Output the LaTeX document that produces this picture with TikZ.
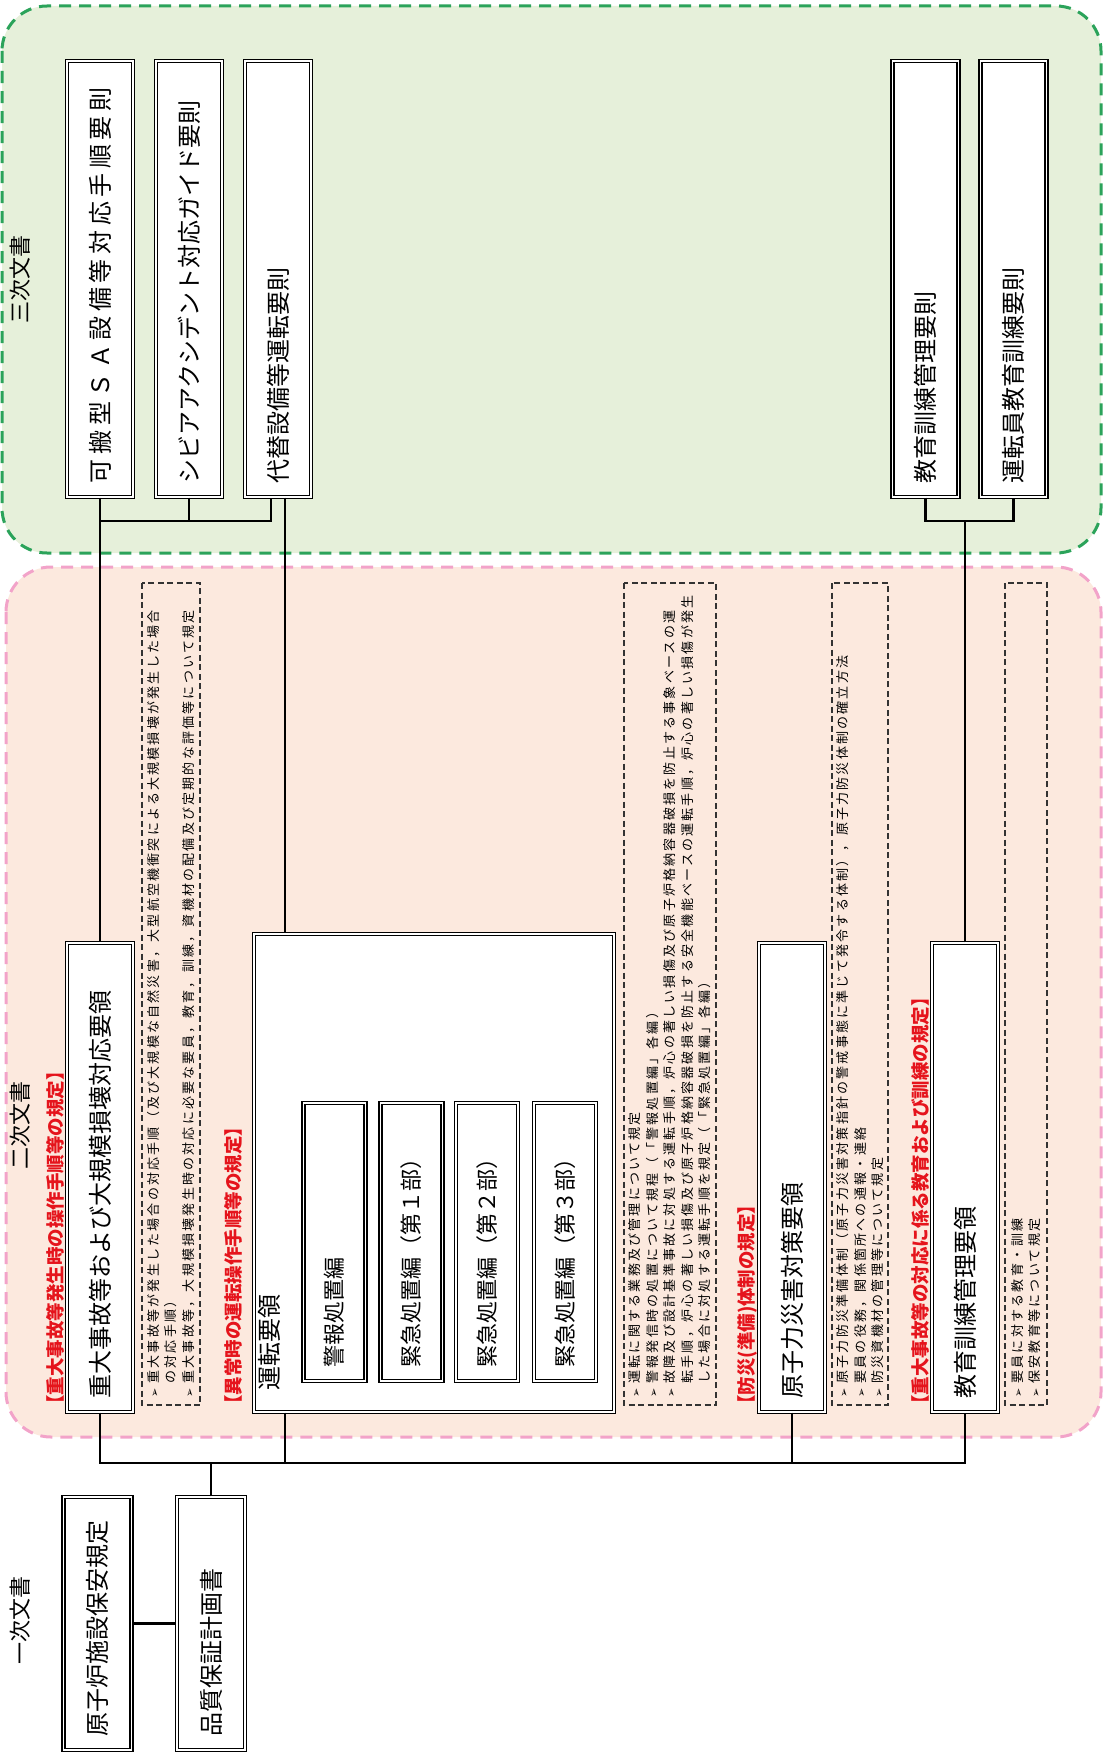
\documentclass[tikz,border=0pt]{standalone}
\usepackage{fontspec}
\setmainfont{Noto Sans CJK JP}
\newfontfamily\memofont[LetterSpace=17]{Noto Sans CJK JP}
\newfontfamily\symfont{DejaVu Sans}
\usetikzlibrary{positioning}

\definecolor{zoneGreen}{HTML}{E6F0DA}
\definecolor{lineGreen}{HTML}{2BA35A}
\definecolor{zonePink}{HTML}{FCE9DE}
\definecolor{linePink}{HTML}{F2A3C9}
\definecolor{noteRed}{HTML}{E5141C}

\newcommand{\bul}{{\symfont\fontsize{11}{11}\selectfont ➢}\ }
\newcommand{\cont}{\phantom{\bul}}

\tikzset{
  zone/.style={dash pattern=on 12pt off 8pt, line width=3pt, rounded corners=45pt},
  doc/.style={draw, double, double distance=1.8pt, line width=1.2pt, fill=white,
    rotate=90, minimum height=66pt, text width=#1, align=left, inner xsep=14pt,
    font=\fontsize{24}{28}\selectfont},
  memo/.style={draw=black!80, dash pattern=on 6pt off 3.5pt, line width=1.3pt,
    rotate=90, minimum width=822pt, text width=806pt, align=left, inner xsep=8pt,
    font=\memofont\fontsize{13}{17.5}\selectfont},
  redlbl/.style={rotate=90, anchor=west, text=noteRed, inner sep=0pt,
    font=\bfseries\fontsize{18.5}{20}\selectfont},
  tier/.style={rotate=90, font=\fontsize{22}{24}\selectfont},
  wire/.style={line width=2.2pt},
}

\begin{document}
\begin{tikzpicture}[x=1pt,y=1pt]
  \useasboundingbox (0,0) rectangle (1112,-1753);

  % zones
  \draw[zone, draw=lineGreen, fill=zoneGreen] (2,-6) rectangle (1101,-553);
  \draw[zone, draw=linePink, fill=zonePink] (6,-567) rectangle (1101,-1437);
  \node[tier] at (20,-279) {三次文書};
  \node[tier] at (20,-1125) {二次文書};
  \node[tier] at (20,-1620) {一次文書};

  % third level
  \node[doc={408pt}] (kahan) at (100,-279) {\addfontfeature{LetterSpace=19}可搬型ＳＡ設備等対応手順要則};
  \node[doc={408pt}] (sibia) at (189,-279) {シビアアクシデント対応ガイド要則};
  \node[doc={408pt}] (daitai) at (278,-279) {代替設備等運転要則};
  \node[doc={408pt}] (kyoikuS) at (925.5,-279) {教育訓練管理要則};
  \node[doc={408pt}] (untenin) at (1013.5,-279) {運転員教育訓練要則};

  % second level
  \node[redlbl] at (55,-1414) {【重大事故等発生時の操作手順等の規定】};
  \node[doc={441pt}] (juudai) at (100,-1177.5) {重大事故等および大規模損壊対応要領};
  \node[memo, minimum height=58pt] (memoA) at (171,-994)
    {\bul 重大事故等が発生した場合の対応手順（及び大規模な自然災害，大型航空機衝突による大規模損壊が発生した場合\\
     \cont の対応手順）\\
     \bul 重大事故等，大規模損壊発生時の対応に必要な要員，教育，訓練，資機材の配備及び定期的な評価等について規定};

  \node[redlbl] at (233,-1414) {【異常時の運転操作手順等の規定】};
  \node[doc={450pt}, minimum height=360pt] (unten) at (434,-1173) {};
  \node[rotate=90, anchor=north west, inner sep=0pt, font=\fontsize{24}{28}\selectfont]
    (untenlbl) at ([xshift=5pt,yshift=22pt]unten.north west) {運転要領};
  \foreach \name/\txt/\px in {keiho/警報処置編/334.5, kinkyuA/緊急処置編（第１部）/411.5,
      kinkyuB/緊急処置編（第２部）/487, kinkyuC/緊急処置編（第３部）/565}{
    \node[doc={250pt}, minimum height=62pt, font=\fontsize{22}{26}\selectfont]
      (\name) at (\px,-1242) {\txt};
  }
  \node[memo, minimum height=92pt] (memoB) at (670,-994)
    {\bul 運転に関する業務及び管理について規定\\
     \bul 警報発信時の処置について規程（「警報処置編」各編）\\
     \bul 故障及び設計基準事故に対処する運転手順，炉心の著しい損傷及び原子炉格納容器破損を防止する事象ベースの運\\
     \cont 転手順，炉心の著しい損傷及び原子炉格納容器破損を防止する安全機能ベースの運転手順，炉心の著しい損傷が発生\\
     \cont した場合に対処する運転手順を規定（「緊急処置編」各編）};

  \node[redlbl] at (747,-1414) {【防災(準備)体制の規定】};
  \node[doc={441pt}] (genshi) at (792,-1177.5) {原子力災害対策要領};
  \node[memo, minimum height=56pt] (memoC) at (860,-994)
    {\bul 原子力防災準備体制（原子力災害対策指針の警戒事態に準じて発令する体制），原子力防災体制の確立方法\\
     \bul 要員の役務，関係箇所への通報・連絡\\
     \bul 防災資機材の管理等について規定};

  \node[redlbl] at (920,-1414) {【重大事故等の対応に係る教育および訓練の規定】};
  \node[doc={441pt}] (kyoiku) at (965,-1177.5) {教育訓練管理要領};
  \node[memo, minimum height=42pt] (memoD) at (1026,-994)
    {\bul 要員に対する教育・訓練\\
     \bul 保安教育等について規定};

  % first level
  \node[doc={225pt}, minimum height=68pt] (hoan) at (97.5,-1623.5) {原子炉施設保安規定};
  \node[doc={225pt}, minimum height=68pt] (hinshitsu) at (211,-1623.5) {品質保証計画書};

  % connectors
  \coordinate (gjl) at (0,-521);
  \coordinate (jb) at (0,-1463);
  \coordinate (dtS) at ([xshift=-7pt]daitai.west);
  \coordinate (dtL) at ([xshift=7pt]daitai.west);
  \draw[wire] (kahan.west) -- (juudai.east);
  \draw[wire] (kahan.west |- gjl) -- (dtS |- gjl) -- (dtS);
  \draw[wire] (sibia.west) -- (sibia.west |- gjl);
  \draw[wire] (dtL) -- (dtL |- unten.east);
  \draw[wire] (kyoikuS.west) -- (kyoikuS.west |- gjl) -- (untenin.west |- gjl) -- (untenin.west);
  \draw[wire] (kyoiku.east) -- (kyoiku.east |- gjl);
  \draw[wire] (juudai.west) -- (juudai.west |- jb) -- (kyoiku.west |- jb) -- (kyoiku.west);
  \draw[wire] (dtL |- unten.west) -- (dtL |- jb);
  \draw[wire] (genshi.west) -- (genshi.west |- jb);
  \draw[wire] (hinshitsu.east) -- (hinshitsu.east |- jb);
  \draw[wire] (hoan.south) -- (hinshitsu.north);
\end{tikzpicture}
\end{document}
